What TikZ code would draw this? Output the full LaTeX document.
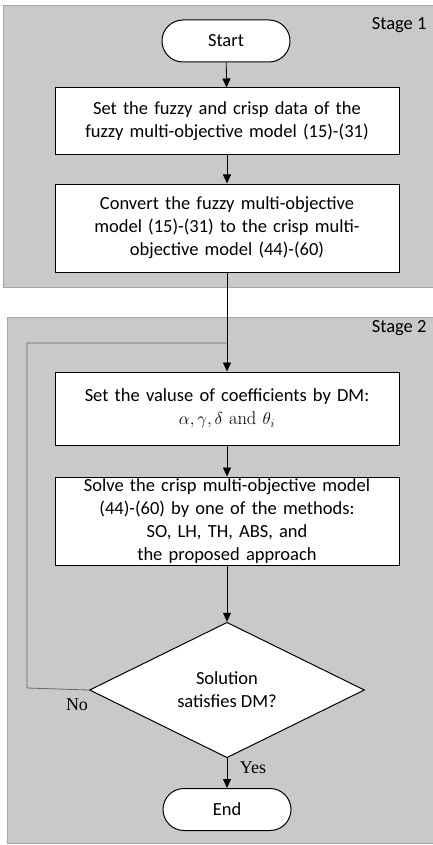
\documentclass[tikz,border=0pt]{standalone}
\usepackage{fontspec}
\setmainfont{Carlito}
\newfontfamily\serifan{Liberation Serif}
\newfontfamily\lmroman{Latin Modern Roman}
\usetikzlibrary{shapes.geometric,arrows.meta}
\begin{document}
\begin{tikzpicture}[x=1pt,y=-1pt,
  every node/.style={font=\fontsize{18.5}{23}\selectfont},
  stage/.style={fill=black!21,draw=black!35,line width=0.8pt},
  procbox/.style={draw,fill=white,line width=1pt,minimum width=344pt,text width=330pt,align=center,inner sep=0pt},
  termbox/.style={draw,fill=white,line width=1pt,rounded corners=21pt,minimum width=128pt,minimum height=42pt,inner sep=0pt},
  decbox/.style={draw,fill=white,line width=1pt,diamond,minimum width=275pt,minimum height=134pt,inner sep=0pt,align=center},
  arr/.style={line width=0.8pt,-{Triangle[length=9pt,width=8pt]}},
  plain/.style={line width=0.8pt},
  lbl/.style={font=\serifan\fontsize{18}{20}\selectfont}]
\useasboundingbox (0,0) rectangle (433,845);
\fill[white] (0,0) rectangle (433,845);
% stage panels
\draw[stage] (3,5) rectangle (434,287);
\draw[stage] (7,317) rectangle (434,843);
\node[anchor=east] (s1) at (430,25) {Stage 1};
\node[anchor=east] (s2) at (430,328) {Stage 2};
% nodes
\node[termbox] (start) at (226,41) {Start};
\node[procbox,minimum height=67pt] (b1) at (227,121.5) {Set the fuzzy and crisp data of the\\fuzzy multi-objective model (15)-(31)};
\node[procbox,minimum height=88pt] (b2) at (227,228) {Convert the fuzzy multi-objective\\model (15)-(31) to the crisp multi-\\objective model (44)-(60)};
\node[procbox,minimum height=73pt] (b3) at (227,408.5) {Set the valuse of coefficients by DM:\\$\alpha,\gamma,\delta\ \hbox{\lmroman and}\ \theta_i$};
\node[procbox,minimum height=88pt] (b4) at (227,521) {Solve the crisp multi-objective model\\(44)-(60) by one of the methods:\\SO, LH, TH, ABS, and\\the proposed approach};
\node[decbox] (d) at (227,690) {Solution\\satisfies DM?};
\node[termbox] (end) at (227,809.5) {End};
\coordinate (j) at (227,343);
\coordinate (lt) at (27,343);
\coordinate (lb) at (27,688);
% connectors
\draw[arr] (start) -- (b1);
\draw[arr] (b1) -- (b2);
\draw[arr] (b2) -- (b3);
\draw[arr] (b3) -- (b4);
\draw[arr] (b4) -- (d);
\draw[arr] (d) -- (end);
\draw[plain,draw=black!60] (d.west) -- (lb) -- (lt) -- (j);
\node[lbl] (no) at (77,705) {No};
\node[lbl] (yes) at (253,768) {Yes};
\end{tikzpicture}
\end{document}
